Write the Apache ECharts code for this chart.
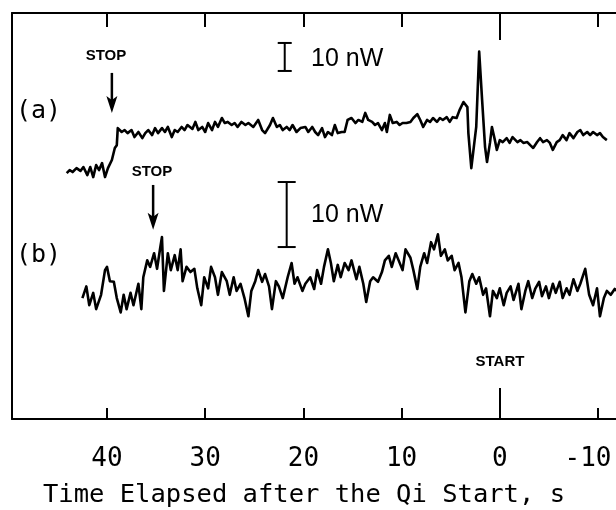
<!DOCTYPE html>
<html>
<head>
<meta charset="utf-8">
<script src="https://cdn.jsdelivr.net/npm/echarts@6/dist/echarts.min.js"></script>
<style>
html,body{margin:0;padding:0;background:#fff;}
#chart{width:616px;height:510px;}
</style>
</head>
<body>
<div id="chart"></div>
<script>
// ---- data (time in s after the Qi start, power in nW relative to baseline) ----
const tickValues = [40, 30, 20, 10, 0, -10];
const startTickValues = [0];
const xLabel = 'Time Elapsed after the Qi Start, s';

// trace (a): [time s, power nW]
const traceA = [[44.1,-15.4],[43.8,-14.3],[43.5,-15.0],[43.1,-13.6],[42.7,-14.6],[42.4,-13.2],[42.0,-16.1],[41.7,-13.2],[41.4,-16.8],[41.1,-12.5],[40.8,-14.3],[40.5,-11.8],[40.2,-16.8],[39.9,-13.6],[39.5,-10.7],[39.2,-6.4],[39.0,-5.4],[38.9,0.7],[38.5,-0.7],[38.2,0.0],[37.9,-1.1],[37.5,0.0],[37.2,-2.5],[36.8,-0.7],[36.4,-2.9],[36.1,-1.1],[35.8,0.0],[35.4,-1.8],[35.1,0.7],[34.8,-1.1],[34.4,0.7],[34.1,-0.7],[33.8,1.1],[33.4,-2.5],[33.1,0.0],[32.8,-0.7],[32.4,1.1],[32.1,0.0],[31.8,1.8],[31.3,0.4],[31.0,2.9],[30.7,0.0],[30.3,1.1],[30.0,-0.7],[29.7,2.5],[29.3,0.0],[29.0,2.9],[28.7,1.1],[28.3,4.3],[28.0,2.5],[27.7,2.9],[27.3,1.8],[27.0,2.5],[26.7,1.1],[26.3,2.9],[25.9,1.8],[25.6,2.5],[25.1,1.1],[24.6,3.6],[24.2,0.0],[23.9,-1.1],[23.4,1.8],[23.1,4.3],[22.7,1.1],[22.4,1.8],[22.1,0.0],[21.7,1.1],[21.4,0.0],[21.1,1.8],[20.7,-0.7],[20.3,0.7],[19.8,1.1],[19.5,-0.7],[19.1,1.1],[18.8,-0.7],[18.5,-1.8],[18.1,0.7],[17.8,-2.5],[17.5,-0.7],[17.1,-1.8],[16.8,1.8],[16.5,-1.1],[16.1,-0.7],[15.8,-0.7],[15.5,3.6],[15.1,4.3],[14.7,2.5],[14.4,3.6],[14.0,2.9],[13.7,6.1],[13.4,3.6],[13.0,2.9],[12.7,1.8],[12.4,2.5],[12.0,0.0],[11.7,2.5],[11.5,-0.7],[11.2,5.4],[10.9,2.5],[10.5,2.9],[10.2,1.8],[9.9,2.5],[9.5,2.5],[9.1,2.9],[8.8,4.3],[8.4,5.7],[8.1,3.6],[7.8,1.1],[7.4,3.6],[7.1,2.9],[6.8,4.3],[6.4,2.9],[6.1,4.3],[5.8,3.6],[5.4,4.6],[5.1,2.9],[4.8,4.6],[4.4,4.3],[4.1,7.1],[3.7,10.0],[3.3,8.2],[3.2,-1.1],[2.9,-13.6],[2.7,-14.3],[2.4,1.1],[2.1,28.0],[1.8,10.7],[1.5,-6.1],[1.3,-11.4],[1.0,-4.6],[0.8,1.1],[0.5,-3.6],[0.3,-7.1],[0.0,-3.6],[-0.3,-4.3],[-0.7,-2.9],[-1.0,-4.6],[-1.3,-2.5],[-1.8,-4.3],[-2.1,-3.6],[-2.4,-4.6],[-2.8,-4.3],[-3.1,-5.4],[-3.4,-6.4],[-3.8,-4.3],[-4.1,-2.9],[-4.4,-4.3],[-4.8,-3.6],[-5.1,-4.6],[-5.4,-7.1],[-5.8,-4.3],[-6.1,-3.6],[-6.4,-1.8],[-6.8,-3.6],[-7.1,-1.1],[-7.5,-2.9],[-7.9,-0.7],[-8.2,0.0],[-8.5,-1.8],[-8.9,-0.7],[-9.2,-1.8],[-9.5,-0.7],[-9.9,-1.8],[-10.2,-1.1],[-10.5,-2.5],[-10.9,-3.6]];

// trace (b): [time s, power nW]
const traceB = [[42.5,-2.0],[42.1,-0.2],[41.8,-3.1],[41.4,-1.2],[41.1,-3.7],[40.6,-1.5],[40.2,2.3],[40.0,2.8],[39.7,0.6],[39.3,0.5],[39.0,-2.0],[38.6,-4.2],[38.3,-1.5],[38.0,-3.7],[37.6,-1.2],[37.3,-3.1],[36.8,0.2],[36.5,-3.7],[36.3,1.2],[35.9,3.8],[35.6,2.8],[35.2,4.9],[34.9,2.5],[34.6,5.5],[34.4,7.4],[34.2,-0.9],[33.8,4.9],[33.5,2.3],[33.1,4.6],[32.8,2.3],[32.5,5.5],[32.3,0.6],[31.9,2.8],[31.5,2.0],[31.1,2.5],[30.8,-0.5],[30.4,-3.1],[30.1,1.2],[29.7,-0.5],[29.4,2.8],[29.0,1.2],[28.7,-1.5],[28.3,2.0],[27.8,0.6],[27.5,-1.5],[27.1,1.2],[26.8,-0.9],[26.4,0.2],[26.0,-2.0],[25.6,-4.8],[25.3,-0.9],[24.9,0.6],[24.6,2.3],[24.2,0.5],[23.9,1.7],[23.5,-0.2],[23.2,-3.7],[22.8,0.6],[22.5,-0.2],[22.1,-2.0],[21.6,1.2],[21.2,3.4],[20.9,0.2],[20.6,1.2],[20.1,-0.9],[19.8,0.2],[19.3,1.2],[18.9,-0.6],[18.6,2.3],[18.2,0.2],[17.9,2.8],[17.5,5.5],[17.2,3.4],[16.9,0.6],[16.5,3.1],[16.2,1.2],[15.8,3.4],[15.4,2.3],[15.1,3.8],[14.6,0.9],[14.3,2.8],[13.9,0.2],[13.6,-2.6],[13.2,0.6],[12.9,1.2],[12.4,0.5],[12.0,2.0],[11.7,3.8],[11.3,4.5],[11.0,2.8],[10.6,4.9],[10.3,3.8],[9.9,2.3],[9.6,5.5],[9.1,4.2],[8.8,2.3],[8.4,-0.6],[8.1,2.8],[7.7,4.9],[7.4,3.4],[7.0,6.6],[6.7,5.5],[6.3,7.8],[6.0,4.5],[5.6,5.5],[5.3,3.8],[4.9,4.5],[4.6,2.3],[4.2,3.4],[3.9,1.2],[3.5,-4.2],[3.1,0.6],[2.8,1.7],[2.4,0.2],[2.1,1.2],[1.7,-1.5],[1.4,-0.5],[1.0,-4.8],[0.7,-0.9],[0.3,-2.0],[0.0,-0.5],[-0.4,-3.1],[-0.7,-1.2],[-1.1,-0.2],[-1.4,-2.3],[-1.9,0.2],[-2.2,-3.7],[-2.6,-0.9],[-2.9,0.6],[-3.3,-2.0],[-3.6,-0.6],[-4.0,0.5],[-4.3,-1.7],[-4.7,-0.2],[-5.0,-2.0],[-5.4,0.2],[-5.7,-1.2],[-6.1,0.5],[-6.4,-2.0],[-6.8,-0.5],[-7.1,-1.5],[-7.5,0.9],[-7.9,-0.9],[-8.2,0.2],[-8.7,2.5],[-9.1,-1.5],[-9.5,-3.1],[-9.9,-0.5],[-10.2,-4.8],[-10.6,-2.0],[-10.9,-0.9],[-11.3,-1.5],[-11.7,-0.6],[-12.2,-1.2]];

// STOP arrows: [time s, arrow start nW, arrow tip nW]
const stopArrowA = [[39.5, 20.4, 6.1]];
const stopArrowB = [[35.3, 15.4, 8.5]];
// 10 nW scale bars: [time s, bottom nW]
const scaleBarNW = 10;
const scaleBarA = [[21.9, 21.1]];
const scaleBarB = [[21.7, 5.85]];

// ---- axis ranges ----
const xMin = -14.48, xMax = 49.67;
const yAMin = -103.2, yAMax = 41.8;
const yBMin = -20.6, yBMax = 41.85;

const BLACK = '#000';
const chart = echarts.init(document.getElementById('chart'), null, {renderer: 'canvas'});

function arrowItem(params, api) {
  const p0 = api.coord([api.value(0), api.value(1)]);
  const p1 = api.coord([api.value(0), api.value(2)]);
  return {
    type: 'group',
    children: [
      {type: 'line', shape: {x1: p0[0], y1: p0[1], x2: p1[0], y2: p1[1] - 12}, style: {stroke: BLACK, lineWidth: 2.5}},
      {type: 'polygon', shape: {points: [[p1[0] - 5.5, p1[1] - 17], [p1[0], p1[1] - 13], [p1[0] + 5.5, p1[1] - 17], [p1[0], p1[1]]]}, style: {fill: BLACK}}
    ]
  };
}
function scaleBarItem(halfCap) {
  return function (params, api) {
    const pb = api.coord([api.value(0), api.value(1)]);
    const pt = api.coord([api.value(0), api.value(1) + scaleBarNW]);
    const st = {stroke: BLACK, lineWidth: 2};
    return {
      type: 'group',
      children: [
        {type: 'line', shape: {x1: pb[0], y1: pb[1], x2: pt[0], y2: pt[1]}, style: st},
        {type: 'line', shape: {x1: pt[0] - halfCap, y1: pt[1], x2: pt[0] + halfCap, y2: pt[1]}, style: st},
        {type: 'line', shape: {x1: pb[0] - halfCap, y1: pb[1], x2: pb[0] + halfCap, y2: pb[1]}, style: st}
      ]
    };
  };
}

const baseX = {
  type: 'value', inverse: true, min: xMin, max: xMax, gridIndex: 0,
  splitLine: {show: false}
};

const option = {
  backgroundColor: '#fff',
  animation: false,
  grid: {left: 12, top: 13, width: 630, height: 406, containLabel: false, outerBoundsMode: 'none'},
  xAxis: [
    Object.assign({}, baseX, {
      position: 'bottom',
      axisLine: {show: true, onZero: false, lineStyle: {color: BLACK, width: 2}},
      axisTick: {show: true, inside: true, length: 11, customValues: tickValues, lineStyle: {color: BLACK, width: 2}},
      axisLabel: {
        show: true, customValues: tickValues, margin: 27, color: BLACK, fontSize: 26, fontFamily: 'DejaVu Sans Mono',
        formatter: function (v) { return v < 0 ? '{n|' + v + '}{s| }' : '{n|' + v + '}'; },
        rich: {
          n: {fontSize: 26, fontFamily: 'DejaVu Sans Mono', color: BLACK},
          s: {width: 20, fontSize: 26}
        }
      }
    }),
    Object.assign({}, baseX, {
      position: 'top',
      axisLine: {show: true, onZero: false, lineStyle: {color: BLACK, width: 2}},
      axisTick: {show: true, inside: true, length: 14, customValues: tickValues, lineStyle: {color: BLACK, width: 2}},
      axisLabel: {show: false}
    }),
    Object.assign({}, baseX, {
      position: 'bottom',
      axisLine: {show: false, onZero: false},
      axisTick: {show: true, inside: true, length: 31, customValues: startTickValues, lineStyle: {color: BLACK, width: 2}},
      axisLabel: {show: false}
    }),
    Object.assign({}, baseX, {
      position: 'top',
      axisLine: {show: false, onZero: false},
      axisTick: {show: true, inside: true, length: 27, customValues: startTickValues, lineStyle: {color: BLACK, width: 2}},
      axisLabel: {show: false}
    })
  ],
  yAxis: [
    {
      type: 'value', position: 'left', min: yAMin, max: yAMax,
      axisLine: {show: true, onZero: false, lineStyle: {color: BLACK, width: 2}},
      axisTick: {show: false}, axisLabel: {show: false}, splitLine: {show: false}
    },
    {
      type: 'value', position: 'right', min: yBMin, max: yBMax, show: false,
      axisLine: {show: false, onZero: false}, splitLine: {show: false}
    }
  ],
  series: [
    {
      type: 'line', name: '(a)', xAxisIndex: 0, yAxisIndex: 0, data: traceA,
      showSymbol: false, symbol: 'none', clip: false,
      lineStyle: {color: BLACK, width: 2.6, join: 'round'}
    },
    {
      type: 'line', name: '(b)', xAxisIndex: 0, yAxisIndex: 1, data: traceB,
      showSymbol: false, symbol: 'none', clip: false,
      lineStyle: {color: BLACK, width: 2.6, join: 'round'}
    },
    {type: 'custom', xAxisIndex: 0, yAxisIndex: 0, data: stopArrowA, renderItem: arrowItem, clip: false, silent: true},
    {type: 'custom', xAxisIndex: 0, yAxisIndex: 1, data: stopArrowB, renderItem: arrowItem, clip: false, silent: true},
    {type: 'custom', xAxisIndex: 0, yAxisIndex: 0, data: scaleBarA, renderItem: scaleBarItem(7), clip: false, silent: true},
    {type: 'custom', xAxisIndex: 0, yAxisIndex: 1, data: scaleBarB, renderItem: scaleBarItem(9), clip: false, silent: true}
  ],
  graphic: [
    {type: 'text', x: 106, y: 56, style: {text: 'STOP', fill: BLACK, font: 'bold 15px "Liberation Sans"', align: 'center', verticalAlign: 'middle'}},
    {type: 'text', x: 152, y: 172, style: {text: 'STOP', fill: BLACK, font: 'bold 15px "Liberation Sans"', align: 'center', verticalAlign: 'middle'}},
    {type: 'text', x: 500, y: 362, style: {text: 'START', fill: BLACK, font: 'bold 15px "Liberation Sans"', align: 'center', verticalAlign: 'middle'}},
    {type: 'text', x: 16, y: 111, style: {text: '(a)', fill: BLACK, font: '25px "DejaVu Sans Mono"', align: 'left', verticalAlign: 'middle'}},
    {type: 'text', x: 16, y: 255, style: {text: '(b)', fill: BLACK, font: '25px "DejaVu Sans Mono"', align: 'left', verticalAlign: 'middle'}},
    {type: 'text', x: 311, y: 59, style: {text: '10 nW', fill: BLACK, font: '25px "Liberation Sans"', align: 'left', verticalAlign: 'middle'}},
    {type: 'text', x: 311, y: 215, style: {text: '10 nW', fill: BLACK, font: '25px "Liberation Sans"', align: 'left', verticalAlign: 'middle'}},
    {type: 'text', x: 304, y: 495, style: {text: xLabel, fill: BLACK, font: '25.5px "DejaVu Sans Mono"', align: 'center', verticalAlign: 'middle'}}
  ]
};
chart.setOption(option);
</script>
</body>
</html>
